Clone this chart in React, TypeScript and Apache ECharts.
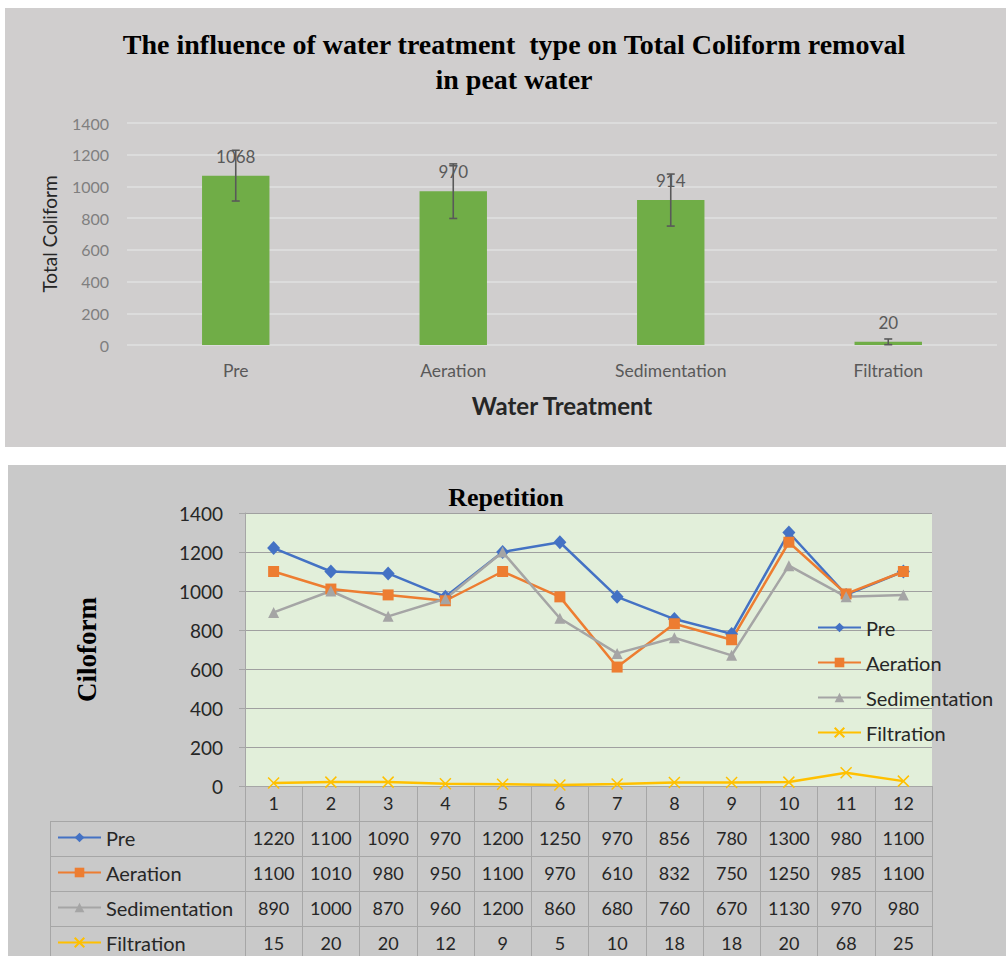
import React, { useEffect, useRef } from "react";
import * as echarts from "echarts";

const categories = ["Pre", "Aeration", "Sedimentation", "Filtration"];
const meanValues = [1068, 970, 914, 20];
const errValues = [160, 172, 164, 18];

const repetitions = ["1", "2", "3", "4", "5", "6", "7", "8", "9", "10", "11", "12"];
const preValues = [1220, 1100, 1090, 970, 1200, 1250, 970, 856, 780, 1300, 980, 1100];
const aerationValues = [1100, 1010, 980, 950, 1100, 970, 610, 832, 750, 1250, 985, 1100];
const sedimentationValues = [890, 1000, 870, 960, 1200, 860, 680, 760, 670, 1130, 970, 980];
const filtrationValues = [15, 20, 20, 12, 9, 5, 10, 18, 18, 20, 68, 25];

const yTicks = [0, 200, 400, 600, 800, 1000, 1200, 1400];

const SANS = "Lato, 'Liberation Sans', sans-serif";
const SERIF = "'Liberation Serif', 'DejaVu Serif', serif";

const W = 1006;
const H = 956;
// bottom grid layout
const G2_LEFT = 245;
const G2_RIGHT = 932;
const G2_TOP = 513;
const G2_BOTTOM = 786;
const ROW_H = 35;
const TABLE_LEFT = 50;
const TABLE_LINE = "#a6a6a6";

export default function App() {
  const ref = useRef<HTMLDivElement>(null);

  useEffect(() => {
    if (!ref.current) return;
    const chart = echarts.init(ref.current, undefined, { renderer: "svg" });

    const lineSeriesDefs = [
      { name: "Pre", data: preValues, color: "#4472c4", symbol: "diamond", size: [13, 14] },
      { name: "Aeration", data: aerationValues, color: "#ed7d31", symbol: "rect", size: 11 },
      { name: "Sedimentation", data: sedimentationValues, color: "#a5a5a5", symbol: "triangle", size: 11 },
      {
        name: "Filtration",
        data: filtrationValues,
        color: "#ffc000",
        symbol: "path://M0,0L10,10M10,0L0,10",
        size: 11,
      },
    ];

    const rows = [preValues, aerationValues, sedimentationValues, filtrationValues];

    const tableAxisBase = {
      gridIndex: 1,
      type: "category" as const,
      position: "bottom" as const,
      boundaryGap: true,
      axisLine: { show: true, lineStyle: { color: TABLE_LINE, width: 1 } },
      axisTick: { show: true, interval: 0, length: ROW_H, lineStyle: { color: TABLE_LINE, width: 1 } },
      axisLabel: { interval: 0, fontSize: 18, color: "#262626", fontFamily: SANS, margin: 8 },
      splitLine: { show: false },
    };

    const rowAxes = rows.map((r, k) => ({
      ...tableAxisBase,
      offset: ROW_H * (k + 1),
      data: r.map((v) => String(v)),
    }));

    // key-column lines of the data table
    const tableGraphics: any[] = [];
    for (let k = 0; k < rows.length; k++) {
      const y = G2_BOTTOM + ROW_H * (k + 1);
      tableGraphics.push({
        type: "line",
        shape: { x1: TABLE_LEFT, y1: y + 0.5, x2: G2_LEFT, y2: y + 0.5 },
        style: { stroke: TABLE_LINE, lineWidth: 1 },
      });
    }
    tableGraphics.push({
      type: "line",
      shape: { x1: TABLE_LEFT + 0.5, y1: G2_BOTTOM + ROW_H, x2: TABLE_LEFT + 0.5, y2: H },
      style: { stroke: TABLE_LINE, lineWidth: 1 },
    });

    const legendBase = {
      orient: "vertical" as const,
      padding: 0,
      itemWidth: 43,
      itemHeight: 12,
      itemGap: 14,
      data: lineSeriesDefs.map((d) => d.name),
      textStyle: { fontSize: 20, lineHeight: 21, color: "#262626", fontFamily: SANS },
      selectedMode: false,
    };

    const plainNum = (v: number) => String(v);

    chart.setOption({
      animation: false,
      backgroundColor: "transparent",
      textStyle: { fontFamily: SANS },
      graphic: [
        {
          type: "text",
          x: 514,
          y: 27,
          style: {
            text: "The influence of water treatment  type on Total Coliform removal\nin peat water",
            fontFamily: SERIF,
            fontWeight: "bold",
            fontSize: 28,
            lineHeight: 35,
            fill: "#000",
            align: "center",
            verticalAlign: "top",
          },
        },
        {
          type: "text",
          x: 506,
          y: 497,
          style: {
            text: "Repetition",
            fontFamily: SERIF,
            fontWeight: "bold",
            fontSize: 26,
            fill: "#000",
            align: "center",
            verticalAlign: "middle",
          },
        },
        ...tableGraphics,
      ],
      legend: [
        { ...legendBase, left: 57, top: 827 },
        { ...legendBase, left: 817, top: 617 },
      ],
      grid: [
        { left: 127, right: W - 997, top: 123, bottom: H - 345 },
        {
          left: G2_LEFT,
          right: W - G2_RIGHT,
          top: G2_TOP,
          bottom: H - G2_BOTTOM,
          show: true,
          backgroundColor: "#e2efda",
          borderWidth: 0,
        },
      ],
      xAxis: [
        {
          gridIndex: 0,
          type: "category",
          data: categories,
          axisLine: { show: false },
          axisTick: { show: false },
          axisLabel: { fontSize: 17.5, color: "#595959", fontFamily: SANS, margin: 16 },
          name: "Water Treatment",
          nameLocation: "middle",
          nameGap: 48,
          nameTextStyle: { fontSize: 24, fontWeight: "bold", color: "#262626", fontFamily: SANS },
        },
        {
          ...tableAxisBase,
          data: repetitions,
        },
        ...rowAxes,
      ],
      yAxis: [
        {
          gridIndex: 0,
          type: "value",
          min: 0,
          max: 1400,
          interval: 200,
          axisLine: { show: false },
          axisTick: { show: false },
          axisLabel: { fontSize: 16, color: "#7f7f7f", fontFamily: SANS, margin: 18, formatter: plainNum },
          splitLine: { lineStyle: { color: "#e0e0e0", width: 1.5 } },
          name: "Total Coliform",
          nameLocation: "middle",
          nameGap: 68,
          nameTextStyle: { fontSize: 19, color: "#262626", fontFamily: SANS },
        },
        {
          gridIndex: 1,
          type: "value",
          min: yTicks[0],
          max: yTicks[yTicks.length - 1],
          interval: 200,
          axisLine: { show: true, lineStyle: { color: TABLE_LINE } },
          axisTick: { show: true, length: 6, lineStyle: { color: TABLE_LINE } },
          axisLabel: { fontSize: 19, color: "#262626", fontFamily: SANS, margin: 22, formatter: plainNum },
          splitLine: { lineStyle: { color: "#a0a0a0", width: 1 } },
          name: "Ciloform",
          nameLocation: "middle",
          nameGap: 145,
          nameTextStyle: { fontSize: 27, fontWeight: "bold", color: "#000", fontFamily: SERIF },
        },
      ],
      series: [
        {
          name: "Total Coliform",
          type: "bar",
          xAxisIndex: 0,
          yAxisIndex: 0,
          data: meanValues,
          barWidth: "31%",
          itemStyle: { color: "#70ad47" },
          label: {
            show: true,
            position: "top",
            distance: 11,
            fontSize: 17,
            color: "#595959",
            fontFamily: SANS,
          },
        },
        {
          name: "error",
          type: "custom",
          xAxisIndex: 0,
          yAxisIndex: 0,
          data: meanValues.map((m, i) => [i, m - errValues[i], m + errValues[i]]),
          encode: { x: 0, y: [1, 2] },
          z: 5,
          renderItem: (params: any, api: any) => {
            const idx = api.value(0);
            const lo = api.coord([idx, api.value(1)]);
            const hi = api.coord([idx, api.value(2)]);
            const cap = 4;
            const style = { stroke: "#595959", lineWidth: 1.6 };
            return {
              type: "group",
              children: [
                { type: "line", shape: { x1: hi[0], y1: hi[1], x2: lo[0], y2: lo[1] }, style },
                { type: "line", shape: { x1: hi[0] - cap, y1: hi[1], x2: hi[0] + cap, y2: hi[1] }, style },
                { type: "line", shape: { x1: lo[0] - cap, y1: lo[1], x2: lo[0] + cap, y2: lo[1] }, style },
              ],
            };
          },
        },
        ...lineSeriesDefs.map((d) => ({
          name: d.name,
          type: "line",
          xAxisIndex: 1,
          yAxisIndex: 1,
          data: d.data,
          symbol: d.symbol,
          symbolSize: d.size,
          showAllSymbol: true,
          lineStyle: { color: d.color, width: 2.5 },
          itemStyle:
            d.name === "Filtration"
              ? { color: "rgba(0,0,0,0)", borderColor: d.color, borderWidth: 1.5 }
              : { color: d.color, borderWidth: 0 },
          z: 3,
        })),
      ],
    });

    return () => chart.dispose();
  }, []);

  return (
    <div style={{ position: "absolute", left: 0, top: 0, width: W, height: H, background: "#fff", overflow: "hidden" }}>
      <div style={{ position: "absolute", left: 5, top: 8, width: W - 5, height: 439, background: "#d0cece" }} />
      <div style={{ position: "absolute", left: 8, top: 465, width: W - 8, height: H - 465, background: "#c9c9c9" }} />
      <div ref={ref} style={{ position: "absolute", left: 0, top: 0, width: W, height: H }} />
    </div>
  );
}
